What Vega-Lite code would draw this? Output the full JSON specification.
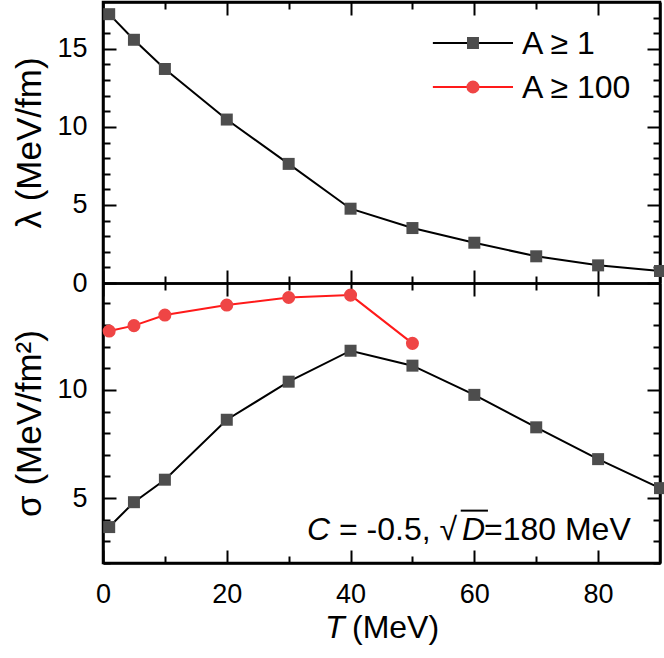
{
  "$schema": "https://vega.github.io/schema/vega-lite/v6.json",
  "width": 557,
  "height": 561,
  "autosize": "none",
  "padding": {"left": 103, "top": 2, "right": 4, "bottom": 95},
  "background": "white",
  "config": {
    "view": {"stroke": "black", "strokeWidth": 2.5},
    "axis": {"grid": false, "labelFlush": false, "labelOverlap": false, "labelFont": "Liberation Sans", "labelFontSize": 27, "titleFont": "Liberation Sans", "titleFontSize": 35, "titleFontWeight": "normal"}
  },
  "datasets": {
    "lambda": [
      {"T": 1, "lambda": 17.22, "series": "A ≥ 1"},
      {"T": 5, "lambda": 15.58, "series": "A ≥ 1"},
      {"T": 10, "lambda": 13.71, "series": "A ≥ 1"},
      {"T": 20, "lambda": 10.47, "series": "A ≥ 1"},
      {"T": 30, "lambda": 7.63, "series": "A ≥ 1"},
      {"T": 40, "lambda": 4.76, "series": "A ≥ 1"},
      {"T": 50, "lambda": 3.52, "series": "A ≥ 1"},
      {"T": 60, "lambda": 2.58, "series": "A ≥ 1"},
      {"T": 70, "lambda": 1.71, "series": "A ≥ 1"},
      {"T": 80, "lambda": 1.13, "series": "A ≥ 1"},
      {"T": 90, "lambda": 0.77, "series": "A ≥ 1"}
    ],
    "sigma": [
      {"T": 1, "sigma": 3.66, "series": "A ≥ 1"},
      {"T": 5, "sigma": 4.81, "series": "A ≥ 1"},
      {"T": 10, "sigma": 5.85, "series": "A ≥ 1"},
      {"T": 20, "sigma": 8.62, "series": "A ≥ 1"},
      {"T": 30, "sigma": 10.38, "series": "A ≥ 1"},
      {"T": 40, "sigma": 11.81, "series": "A ≥ 1"},
      {"T": 50, "sigma": 11.12, "series": "A ≥ 1"},
      {"T": 60, "sigma": 9.77, "series": "A ≥ 1"},
      {"T": 70, "sigma": 8.27, "series": "A ≥ 1"},
      {"T": 80, "sigma": 6.80, "series": "A ≥ 1"},
      {"T": 90, "sigma": 5.46, "series": "A ≥ 1"},
      {"T": 1, "sigma": 12.72, "series": "A ≥ 100"},
      {"T": 5, "sigma": 12.97, "series": "A ≥ 100"},
      {"T": 10, "sigma": 13.46, "series": "A ≥ 100"},
      {"T": 20, "sigma": 13.92, "series": "A ≥ 100"},
      {"T": 30, "sigma": 14.27, "series": "A ≥ 100"},
      {"T": 40, "sigma": 14.38, "series": "A ≥ 100"},
      {"T": 50, "sigma": 12.15, "series": "A ≥ 100"}
    ],
    "legendrows": [
      {"series": "A ≥ 1"},
      {"series": "A ≥ 100"}
    ],
    "one": [{}]
  },
  "layer": [
    {
      "data": {"name": "lambda"},
      "layer": [
        {
          "mark": {"type": "line", "strokeWidth": 2, "color": "black"},
          "encoding": {
            "x": {"field": "T", "type": "quantitative", "scale": {"domain": [0, 90], "nice": false},
              "axis": {"orient": "bottom", "offset": -561, "values": [0,20,40,60,80], "labels": false, "title": null, "tickSize": 13, "tickWidth": 2, "tickColor": "black", "domainWidth": 2.5, "domainColor": "black"}},
            "y": {"field": "lambda", "type": "quantitative", "scale": {"domain": [0, 18], "range": [281, 0], "nice": false},
              "axis": {"orient": "left", "values": [0,5,10,15], "ticks": false, "domain": false, "labelPadding": 16, "labelColor": "black", "title": "λ  (MeV/fm)", "titleColor": "black", "titlePadding": 9}}
          }
        },
        {
          "mark": {"type": "point", "shape": "square", "filled": true, "size": 144, "color": "#4d4d4d", "opacity": 1},
          "encoding": {
            "x": {"field": "T", "type": "quantitative",
              "axis": {"orient": "top", "offset": -281, "values": [0,20,40,60,80], "labels": false, "title": null, "tickSize": 13, "tickWidth": 2, "tickColor": "black", "domainWidth": 2.5, "domainColor": "black"}},
            "y": {"field": "lambda", "type": "quantitative",
              "axis": {"orient": "right", "offset": -557, "values": [0,5,10,15], "labels": false, "title": null, "tickSize": 13, "tickWidth": 2, "tickColor": "black", "domainWidth": 2.5, "domainColor": "black"}}
          }
        },
        {
          "mark": {"type": "point", "opacity": 0},
          "encoding": {
            "x": {"field": "T", "type": "quantitative",
              "axis": {"orient": "bottom", "offset": -561, "values": [10,30,50,70], "labels": false, "title": null, "tickSize": 7, "tickWidth": 2, "tickColor": "black", "domain": false}},
            "y": {"field": "lambda", "type": "quantitative",
              "axis": {"orient": "right", "offset": -557, "values": [1,2,3,4,6,7,8,9,11,12,13,14,16,17], "labels": false, "title": null, "tickSize": 7, "tickWidth": 2, "tickColor": "black", "domain": false}}
          }
        },
        {
          "mark": {"type": "point", "opacity": 0},
          "encoding": {
            "x": {"field": "T", "type": "quantitative",
              "axis": {"orient": "top", "offset": -281, "values": [10,30,50,70], "labels": false, "title": null, "tickSize": 7, "tickWidth": 2, "tickColor": "black", "domain": false}},
            "y": {"field": "lambda", "type": "quantitative",
              "axis": {"orient": "left", "offset": -557, "values": [0,5,10,15], "labels": false, "title": null, "tickSize": 13, "tickWidth": 2, "tickColor": "black", "domainWidth": 2.5, "domainColor": "black"}}
          }
        },
        {
          "mark": {"type": "point", "opacity": 0},
          "encoding": {
            "x": {"field": "T", "type": "quantitative", "axis": null},
            "y": {"field": "lambda", "type": "quantitative",
              "axis": {"orient": "left", "offset": -557, "values": [1,2,3,4,6,7,8,9,11,12,13,14,16,17], "labels": false, "title": null, "tickSize": 7, "tickWidth": 2, "tickColor": "black", "domain": false}}
          }
        }
      ],
      "resolve": {"axis": {"x": "independent", "y": "independent"}}
    },
    {
      "data": {"name": "sigma"},
      "layer": [
        {
          "mark": {"type": "line", "strokeWidth": 2},
          "encoding": {
            "x": {"field": "T", "type": "quantitative",
              "axis": {"orient": "bottom", "values": [0,20,40,60,80], "ticks": false, "domain": false, "labelPadding": 18, "labelColor": "black", "title": null}},
            "y": {"field": "sigma", "type": "quantitative", "scale": {"domain": [2, 14.94], "range": [561, 281], "nice": false, "zero": false},
              "axis": {"orient": "left", "values": [5,10], "ticks": false, "domain": false, "labelPadding": 16, "labelColor": "black", "title": "σ  (MeV/fm²)", "titleColor": "black", "titlePadding": 9}},
            "stroke": {"field": "series", "type": "nominal", "scale": {"domain": ["A ≥ 1", "A ≥ 100"], "range": ["#000000", "#ff1a1a"]}, "legend": null}
          }
        },
        {
          "transform": [{"filter": "datum.series === 'A ≥ 1'"}],
          "mark": {"type": "point", "shape": "square", "filled": true, "size": 144, "color": "#4d4d4d", "opacity": 1},
          "encoding": {
            "x": {"field": "T", "type": "quantitative",
              "axis": {"orient": "top", "offset": -561, "values": [0,20,40,60,80], "labels": false, "title": null, "tickSize": 13, "tickWidth": 2, "tickColor": "black", "domainWidth": 2.5, "domainColor": "black"}},
            "y": {"field": "sigma", "type": "quantitative",
              "axis": {"orient": "right", "offset": -557, "values": [5,10], "labels": false, "title": null, "tickSize": 13, "tickWidth": 2, "tickColor": "black", "domainWidth": 2.5, "domainColor": "black"}}
          }
        },
        {
          "transform": [{"filter": "datum.series === 'A ≥ 100'"}],
          "mark": {"type": "point", "shape": "circle", "filled": true, "size": 170, "color": "#ef4545", "opacity": 1},
          "encoding": {
            "x": {"field": "T", "type": "quantitative",
              "axis": {"orient": "bottom", "offset": -280, "values": [0,20,40,60,80], "labels": false, "title": null, "tickSize": 13, "tickWidth": 2, "tickColor": "black", "domainWidth": 2.5, "domainColor": "black"}},
            "y": {"field": "sigma", "type": "quantitative",
              "axis": {"orient": "left", "offset": -557, "values": [5,10], "labels": false, "title": null, "tickSize": 13, "tickWidth": 2, "tickColor": "black", "domainWidth": 2.5, "domainColor": "black"}}
          }
        },
        {
          "mark": {"type": "point", "opacity": 0},
          "encoding": {
            "x": {"field": "T", "type": "quantitative",
              "axis": {"orient": "top", "offset": -561, "values": [10,30,50,70], "labels": false, "title": null, "tickSize": 7, "tickWidth": 2, "tickColor": "black", "domain": false}},
            "y": {"field": "sigma", "type": "quantitative",
              "axis": {"orient": "right", "offset": -557, "values": [2,3,4,6,7,8,9,11,12,13,14], "labels": false, "title": null, "tickSize": 7, "tickWidth": 2, "tickColor": "black", "domain": false}}
          }
        },
        {
          "mark": {"type": "point", "opacity": 0},
          "encoding": {
            "x": {"field": "T", "type": "quantitative",
              "axis": {"orient": "bottom", "offset": -280, "values": [10,30,50,70], "labels": false, "title": null, "tickSize": 7, "tickWidth": 2, "tickColor": "black", "domain": false}},
            "y": {"field": "sigma", "type": "quantitative",
              "axis": {"orient": "left", "offset": -557, "values": [2,3,4,6,7,8,9,11,12,13,14], "labels": false, "title": null, "tickSize": 7, "tickWidth": 2, "tickColor": "black", "domain": false}}
          }
        },
        {
          "data": {"name": "one"},
          "mark": {"type": "text", "text": "C", "font": "Liberation Sans", "fontStyle": "italic", "fontSize": 32, "align": "left", "baseline": "alphabetic", "color": "black"},
          "encoding": {"x": {"datum": 32.96, "type": "quantitative", "axis": null}, "y": {"datum": 3.08, "type": "quantitative", "axis": null}}
        },
        {
          "data": {"name": "one"},
          "mark": {"type": "text", "text": "= -0.5, √", "font": "Liberation Sans", "fontSize": 32, "align": "left", "baseline": "alphabetic", "color": "black"},
          "encoding": {"x": {"datum": 38.13, "type": "quantitative", "axis": null}, "y": {"datum": 3.08, "type": "quantitative", "axis": null}}
        },
        {
          "data": {"name": "one"},
          "mark": {"type": "text", "text": "D", "font": "Liberation Sans", "fontStyle": "italic", "fontSize": 32, "align": "left", "baseline": "alphabetic", "color": "black"},
          "encoding": {"x": {"datum": 58.0, "type": "quantitative", "axis": null}, "y": {"datum": 3.08, "type": "quantitative", "axis": null}}
        },
        {
          "data": {"name": "one"},
          "mark": {"type": "rule", "strokeWidth": 2, "color": "black"},
          "encoding": {"x": {"datum": 57.8, "type": "quantitative", "axis": null}, "x2": {"datum": 62.2}, "y": {"datum": 4.42, "type": "quantitative", "axis": null}}
        },
        {
          "data": {"name": "one"},
          "mark": {"type": "text", "text": "=180 MeV", "font": "Liberation Sans", "fontSize": 32, "align": "left", "baseline": "alphabetic", "color": "black"},
          "encoding": {"x": {"datum": 61.56, "type": "quantitative", "axis": null}, "y": {"datum": 3.08, "type": "quantitative", "axis": null}}
        },
        {
          "data": {"name": "one"},
          "mark": {"type": "text", "text": "T", "font": "Liberation Sans", "fontStyle": "italic", "fontSize": 32, "align": "left", "baseline": "alphabetic", "color": "black"},
          "encoding": {"x": {"datum": 35.87, "type": "quantitative", "axis": null}, "y": {"datum": -1.45, "type": "quantitative", "axis": null}}
        },
        {
          "data": {"name": "one"},
          "mark": {"type": "text", "text": "(MeV)", "font": "Liberation Sans", "fontSize": 32, "align": "left", "baseline": "alphabetic", "color": "black"},
          "encoding": {"x": {"datum": 40.23, "type": "quantitative", "axis": null}, "y": {"datum": -1.45, "type": "quantitative", "axis": null}}
        }
      ],
      "resolve": {"axis": {"x": "independent", "y": "independent"}}
    },
    {
      "data": {"name": "legendrows"},
      "layer": [
        {
          "mark": {"type": "rule", "strokeWidth": 2},
          "encoding": {
            "x": {"datum": 53.3, "type": "quantitative", "axis": null},
            "x2": {"datum": 66.25},
            "y": {"field": "series", "type": "nominal", "scale": {"type": "point", "domain": ["A ≥ 1", "A ≥ 100"], "range": [41, 85], "padding": 0}, "axis": null},
            "stroke": {"field": "series", "type": "nominal", "scale": {"domain": ["A ≥ 1", "A ≥ 100"], "range": ["#000000", "#ff1a1a"]}, "legend": null}
          }
        },
        {
          "mark": {"type": "point", "filled": true, "opacity": 1},
          "encoding": {
            "x": {"datum": 59.78, "type": "quantitative", "axis": null},
            "y": {"field": "series", "type": "nominal", "axis": null},
            "shape": {"field": "series", "type": "nominal", "scale": {"domain": ["A ≥ 1", "A ≥ 100"], "range": ["square", "circle"]}, "legend": null},
            "fill": {"field": "series", "type": "nominal", "scale": {"domain": ["A ≥ 1", "A ≥ 100"], "range": ["#4d4d4d", "#ef4545"]}, "legend": null},
            "size": {"field": "series", "type": "nominal", "scale": {"domain": ["A ≥ 1", "A ≥ 100"], "range": [144, 170]}, "legend": null}
          }
        },
        {
          "mark": {"type": "text", "font": "Liberation Sans", "fontSize": 32, "align": "left", "baseline": "middle", "dy": 1, "color": "black"},
          "encoding": {
            "x": {"datum": 67.7, "type": "quantitative", "axis": null},
            "y": {"field": "series", "type": "nominal", "axis": null},
            "text": {"field": "series", "type": "nominal"}
          }
        }
      ]
    }
  ],
  "resolve": {"scale": {"y": "independent"}, "axis": {"x": "independent", "y": "independent"}}
}
